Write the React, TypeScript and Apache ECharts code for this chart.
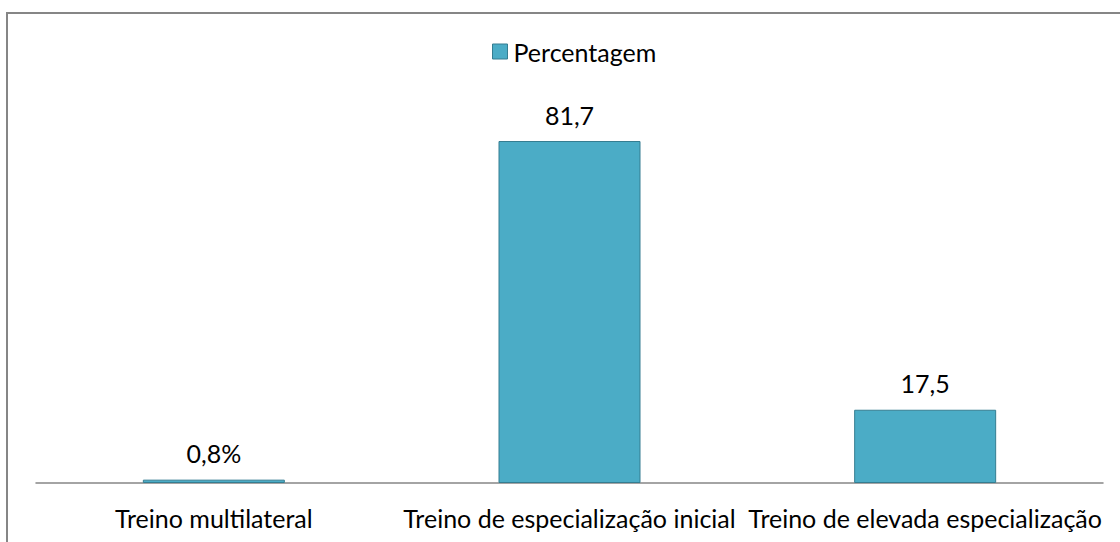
import React, { useEffect, useRef } from "react";
import * as echarts from "echarts";

const categories = [
  "Treino multilateral",
  "Treino de especialização inicial",
  "Treino de elevada especialização",
];
const values = [0.8, 81.7, 17.5];
const valueLabels = ["0,8%", "81,7", "17,5"];
const seriesName = "Percentagem";

const FONT = "Lato";

export default function App() {
  const ref = useRef<HTMLDivElement>(null);
  useEffect(() => {
    if (!ref.current) return;
    const chart = echarts.init(ref.current, null, { renderer: "svg" });
    chart.setOption({
      animation: false,
      backgroundColor: "#ffffff",
      textStyle: { fontFamily: FONT },
      legend: {
        data: [seriesName],
        top: 39,
        left: 492,
        padding: 0,
        itemWidth: 15,
        itemHeight: 15,
        itemGap: 4,
        icon: "rect",
        itemStyle: { borderColor: "#357D91", borderWidth: 1 },
        textStyle: { fontFamily: FONT, fontSize: 25, color: "#000000", padding: [0, 0, 0, 1] },
      },
      grid: { left: 36, right: 17, top: 64.4, bottom: 59, containLabel: false },
      xAxis: {
        type: "category",
        data: categories,
        axisLine: { show: true, lineStyle: { color: "#868686", width: 1.5 } },
        axisTick: { show: false },
        axisLabel: {
          interval: 0,
          color: "#000000",
          fontFamily: FONT,
          fontSize: 25,
          margin: 22,
        },
      },
      yAxis: {
        type: "value",
        min: 0,
        max: 100,
        show: false,
        splitLine: { show: false },
      },
      series: [
        {
          name: seriesName,
          type: "bar",
          data: values,
          barWidth: 142,
          itemStyle: {
            color: "#4BACC6",
            borderColor: "#357D91",
            borderWidth: 1,
          },
          label: {
            show: true,
            position: "top",
            distance: 14,
            fontFamily: FONT,
            fontSize: 25,
            color: "#000000",
            formatter: (p: any) => valueLabels[p.dataIndex],
          },
        },
      ],
      graphic: [
        {
          type: "rect",
          shape: { x: 7, y: 13, width: 1300, height: 700 },
          style: { fill: "none", stroke: "#868686", lineWidth: 2 },
          silent: true,
        },
      ],
    });
    return () => chart.dispose();
  }, []);
  return (
    <div
      ref={ref}
      style={{ position: "absolute", left: 0, top: 0, width: 1120, height: 542 }}
    />
  );
}
